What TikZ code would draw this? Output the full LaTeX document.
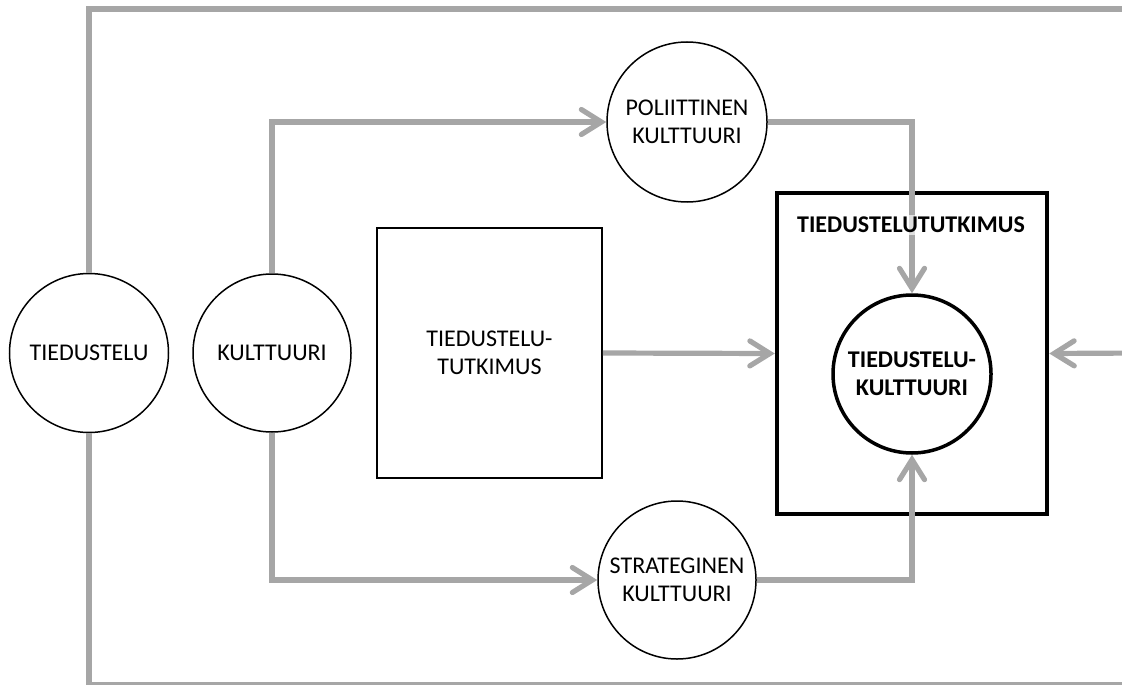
\documentclass[tikz,border=0pt]{standalone}
\usepackage{fontspec}
\setmainfont{Carlito}
\usetikzlibrary{arrows.meta}
\definecolor{conn}{HTML}{A6A6A6}
\tikzset{
  txt/.style={font=\fontsize{12}{14}\selectfont},
  circ/.style={circle,draw=black,line width=0.75pt,minimum size=#1,inner sep=0pt,align=center,txt},
  conn/.style={draw=conn,line width=2.6pt},
  arr/.style={conn,-{Straight Barb[length=10pt,width=12.5pt,line cap=round]}},
}
\begin{document}
\begin{tikzpicture}[x=0.5pt,y=-0.5pt]
\useasboundingbox (0,0) rectangle (1122,684);
\clip (0,0) rectangle (1122,684);
\node[circ=79.5pt] (tied) at (89,353) {TIEDUSTELU};
\node[circ=79pt] (kult) at (272,353) {KULTTUURI};
\node[circ=80pt] (pol) at (687,122) {POLIITTINEN\\KULTTUURI};
\node[circ=79pt] (str) at (677,580) {STRATEGINEN\\KULTTUURI};
\node[draw=black,line width=0.75pt,minimum width=112.5pt,minimum height=125pt,inner sep=0pt,align=center,txt] (sq) at (489.5,353) {TIEDUSTELU-\\TUTKIMUS};
\node[draw=black,line width=2pt,minimum width=135.25pt,minimum height=160.5pt,inner sep=0pt] (big) at (912,353.5) {};
\node[circ=79pt,line width=1.75pt,font=\bfseries\fontsize{12}{14}\selectfont] (inner) at (912,374) {TIEDUSTELU-\\KULTTUURI};
\coordinate (topR) at (1140,9);
\coordinate (botR) at (1140,685);
\coordinate (midR) at (1140,353);
% loops
\draw[conn] (tied.north) |- (topR);
\draw[conn] (tied.south) |- (botR);
\draw[arr] (midR) -- (big.east);
% kulttuuri branches
\draw[arr] (kult.north) |- (pol.west);
\draw[arr] (kult.south) |- (str.west);
% into inner
\draw[arr] (pol.east) -| (inner.north);
\draw[arr] (str.east) -| (inner.south);
\draw[arr] (sq.east) -- (big.west);
\node[font=\bfseries\fontsize{12}{14}\selectfont,fill=white,fill opacity=0.65,text opacity=1,inner sep=1pt] (bigl) at (911,225) {TIEDUSTELUTUTKIMUS};
\end{tikzpicture}
\end{document}
